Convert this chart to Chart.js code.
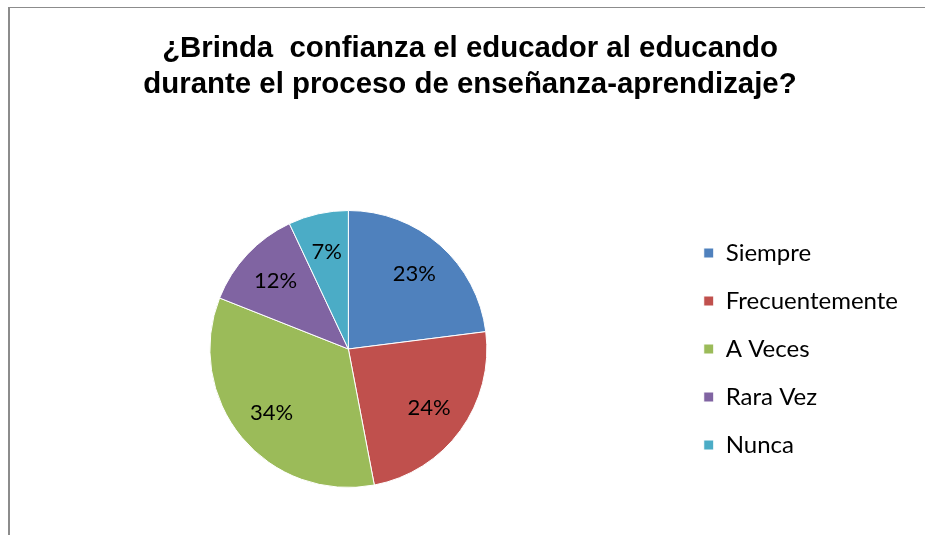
<!DOCTYPE html>
<html>
<head>
<meta charset="utf-8">
<script src="https://cdn.jsdelivr.net/npm/chart.js@4"></script>
<style>
  html, body { margin: 0; padding: 0; background: #fff; }
  #wrap { position: relative; width: 925px; height: 535px; overflow: hidden; }
  #frame { position: absolute; left: 8px; top: 7px; width: 940px; height: 560px;
           border-left: 2px solid #8c8c8c; border-top: 1px solid #8c8c8c; }
  #pieChart { position: absolute; left: 0; top: 0; }
</style>
</head>
<body>
<div id="wrap">
  <div id="frame"></div>
  <canvas id="pieChart" width="925" height="535"></canvas>
</div>
<script>
const titleLines = ['¿Brinda  confianza el educador al educando', 'durante el proceso de enseñanza-aprendizaje?'];
const categories = ['Siempre', 'Frecuentemente', 'A Veces', 'Rara Vez', 'Nunca'];
const percentages = [23, 24, 34, 12, 7];
const sliceColors = ['#4F81BD', '#C0504D', '#9BBB59', '#8064A2', '#4BACC6'];

// Draw the percentage inside each slice
const sliceLabels = {
    id: 'sliceLabels',
    afterDatasetsDraw(chart) {
        const ctx = chart.ctx;
        const meta = chart.getDatasetMeta(0);
        ctx.save();
        ctx.font = '22px Lato, "Open Sans", sans-serif';
        ctx.fillStyle = '#000';
        ctx.textAlign = 'center';
        ctx.textBaseline = 'middle';
        meta.data.forEach((arc, i) => {
            const { x, y, startAngle, endAngle, outerRadius } = arc.getProps(['x', 'y', 'startAngle', 'endAngle', 'outerRadius'], true);
            const mid = (startAngle + endAngle) / 2;
            const r = outerRadius * 0.72;
            ctx.fillText(percentages[i] + '%', x + Math.cos(mid) * r, y + Math.sin(mid) * r);
        });
        ctx.restore();
    }
};

// Give the legend some blank room on its right, like the original layout
const legendRoom = {
    id: 'legendRoom',
    beforeLayout(chart) {
        const lg = chart.legend;
        if (lg && !lg._roomPatched) {
            const fit = lg.fit;
            lg.fit = function () {
                fit.call(this);
                this.width += 15;
            };
            lg._roomPatched = true;
        }
    }
};

new Chart(document.getElementById('pieChart'), {
    type: 'pie',
    data: {
        labels: categories,
        datasets: [{
            data: percentages,
            backgroundColor: sliceColors,
            borderColor: '#ffffff',
            borderWidth: 1
        }]
    },
    options: {
        responsive: false,
        animation: false,
        layout: { padding: { left: 17, right: 2, top: 0, bottom: 47 } },
        plugins: {
            title: {
                display: true,
                text: titleLines,
                color: '#000',
                font: { family: '"Liberation Sans", Arial, sans-serif', size: 29.4, weight: 'bold', lineHeight: 36 / 29.4 },
                padding: { top: 31, bottom: 107 }
            },
            legend: {
                position: 'right',
                fullSize: false,
                labels: {
                    boxWidth: 10,
                    boxHeight: 10,
                    padding: 24,
                    color: '#000',
                    font: { family: 'Lato, "Open Sans", sans-serif', size: 24 }
                }
            },
            tooltip: { enabled: false }
        }
    },
    plugins: [sliceLabels, legendRoom]
});
</script>
</body>
</html>
